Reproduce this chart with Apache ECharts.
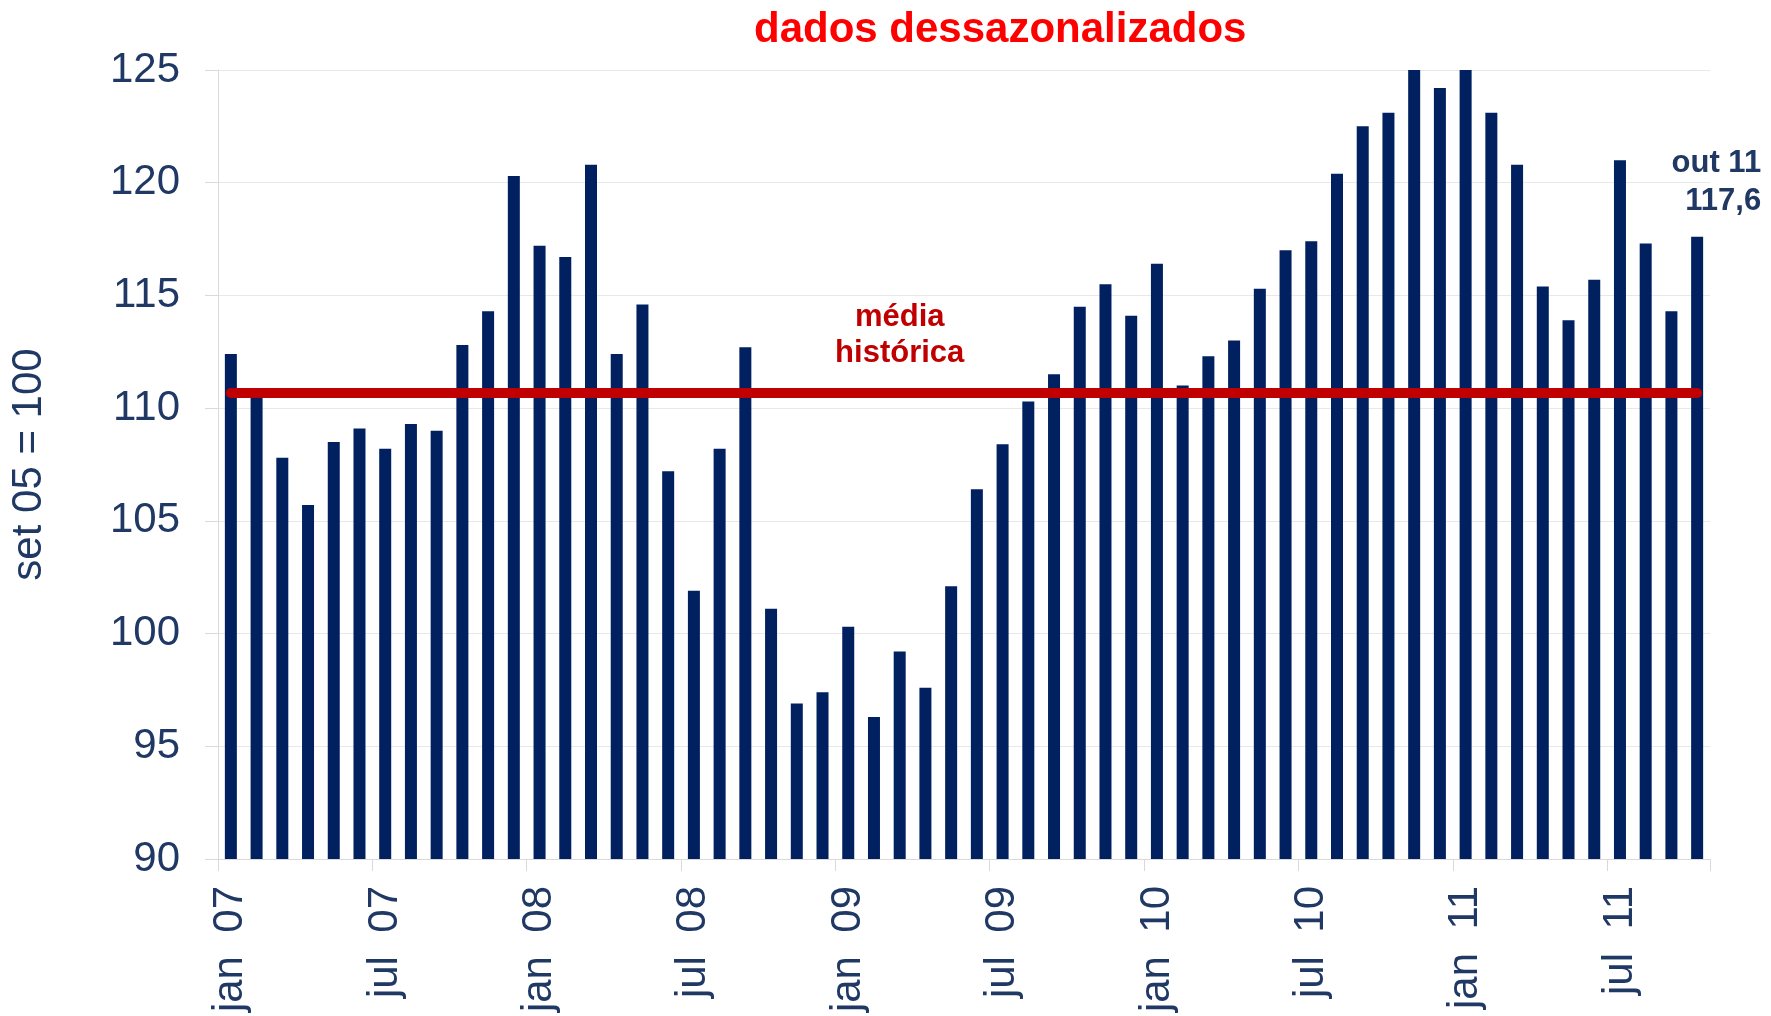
<!DOCTYPE html>
<html>
<head>
<meta charset="utf-8">
<title>dados dessazonalizados</title>
<script src="https://cdn.jsdelivr.net/npm/echarts@6/dist/echarts.min.js"></script>
<style>
  html, body { margin: 0; padding: 0; background: #fff; }
  #chart { width: 1771px; height: 1016px; }
</style>
</head>
<body>
<div id="chart"></div>
<script>
// meses de jan 07 a out 11
var meses = ['jan', 'fev', 'mar', 'abr', 'mai', 'jun', 'jul', 'ago', 'set', 'out', 'nov', 'dez'];
var anos = ['07', '08', '09', '10', '11'];
var categories = [];
anos.forEach(function (a) {
    meses.forEach(function (m) {
        if (categories.length < 58) categories.push(m + ' ' + a);
    });
});

// indice dessazonalizado (set 05 = 100)
var indice = [
    112.4, 110.7, 107.8, 105.7, 108.5, 109.1, 108.2, 109.3, 109.0, 112.8, 114.3, 120.3,
    117.2, 116.7, 120.8, 112.4, 114.6, 107.2, 101.9, 108.2, 112.7, 101.1, 96.9, 97.4,
    100.3, 96.3, 99.2, 97.6, 102.1, 106.4, 108.4, 110.3, 111.5, 114.5, 115.5, 114.1,
    116.4, 111.0, 112.3, 113.0, 115.3, 117.0, 117.4, 120.4, 122.5, 123.1, 125.0, 124.2,
    125.0, 123.1, 120.8, 115.4, 113.9, 115.7, 121.0, 117.3, 114.3, 117.6
];

var mediaHistorica = 110.7;
var yMin = 90, yMax = 125, yStep = 5;

var navy = '#002060';
var txt = '#1f3864';
var font = 'Liberation Sans, Arial, sans-serif';

var chart = echarts.init(document.getElementById('chart'));

var barData = indice.map(function (v, i) {
    if (i !== indice.length - 1) return v;
    return {
        value: v,
        label: {
            show: true,
            position: 'top',
            distance: 16,
            align: 'right',
            offset: [64, 0],
            fontFamily: font,
            fontSize: 31,
            fontWeight: 'bold',
            lineHeight: 38,
            color: txt,
            formatter: function (p) {
                return p.name + '\n' + p.value.toFixed(1).replace('.', ',');
            }
        }
    };
});

var option = {
    animation: false,
    backgroundColor: '#fff',
    title: {
        text: 'dados dessazonalizados',
        left: 749,
        top: 4,
        textStyle: {
            fontFamily: font,
            fontSize: 42,
            fontWeight: 'bold',
            color: '#ff0000'
        }
    },
    grid: {
        left: 216,
        right: 61,
        top: 70,
        bottom: 157
    },
    xAxis: {
        type: 'category',
        data: categories,
        boundaryGap: true,
        axisLine: { lineStyle: { color: '#d9d9d9', width: 1 } },
        axisTick: {
            show: true,
            interval: 5,
            length: 12,
            lineStyle: { color: '#d9d9d9' }
        },
        axisLabel: {
            interval: 5,
            rotate: 90,
            margin: 27,
            fontFamily: font,
            fontSize: 42,
            color: txt,
            formatter: function (v) {
                return v.replace(' ', '  ');
            }
        },
        splitLine: { show: false }
    },
    yAxis: {
        type: 'value',
        min: yMin,
        max: yMax,
        interval: yStep,
        name: 'set 05 = 100',
        nameLocation: 'middle',
        nameGap: 168,
        nameTextStyle: {
            fontFamily: font,
            fontSize: 42,
            color: txt
        },
        axisLine: { show: true, lineStyle: { color: '#d9d9d9' } },
        axisTick: { show: true, length: 13, lineStyle: { color: '#d9d9d9' } },
        axisLabel: {
            margin: 38,
            fontFamily: font,
            fontSize: 42,
            color: txt
        },
        splitLine: { lineStyle: { color: '#e8e8e8', width: 1 } }
    },
    series: [{
        name: 'indice',
        type: 'bar',
        barWidth: 12,
        itemStyle: { color: navy },
        data: barData,
        markLine: {
            silent: true,
            symbol: ['none', 'none'],
            label: { show: false },
            lineStyle: { color: '#c00000', width: 10, type: 'solid', cap: 'round' },
            data: [[
                { coord: [categories[0], mediaHistorica] },
                { coord: [categories[categories.length - 1], mediaHistorica] }
            ]]
        },
        markPoint: {
            silent: true,
            symbol: 'circle',
            symbolSize: 0,
            data: [{
                coord: ['mar 09', mediaHistorica],
                label: {
                    show: true,
                    position: 'top',
                    distance: 21,
                    formatter: 'média\nhistórica',
                    fontFamily: font,
                    fontSize: 31,
                    fontWeight: 'bold',
                    lineHeight: 36,
                    color: '#c00000'
                }
            }]
        }
    }]
};

chart.setOption(option);
</script>
</body>
</html>
